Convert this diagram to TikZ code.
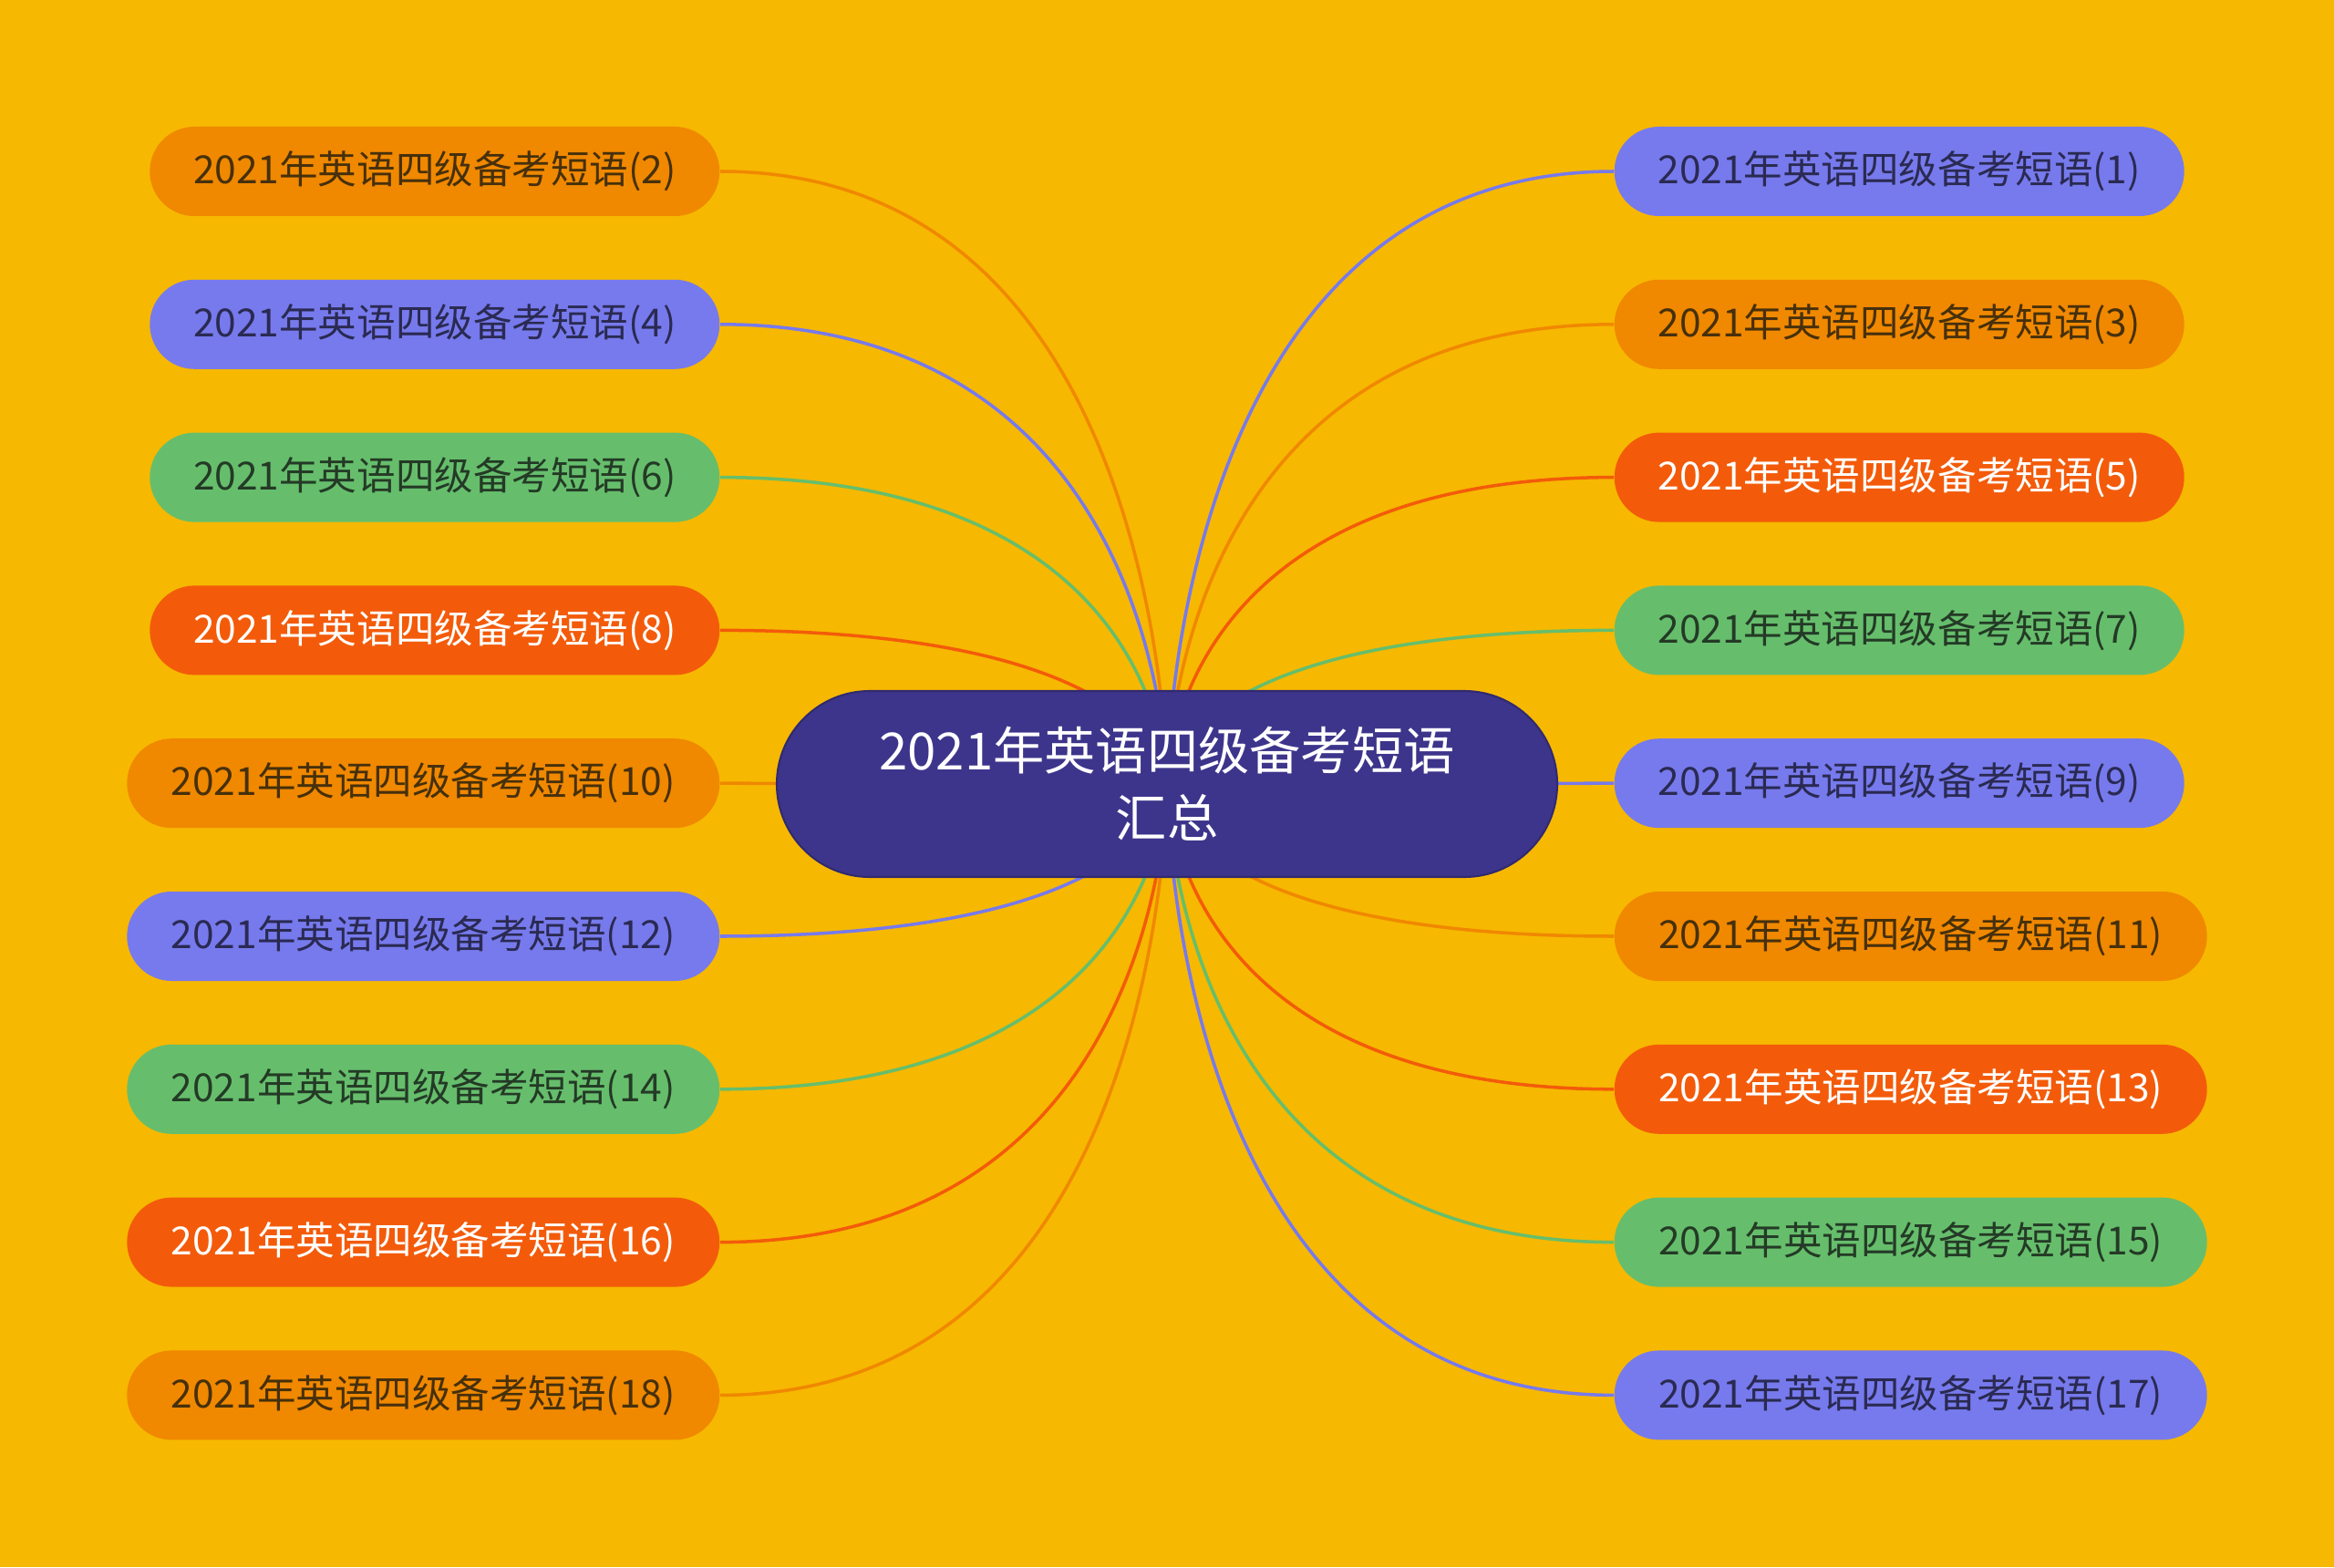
\documentclass[tikz,border=0pt]{standalone}
\usepackage{fontspec}
\setmainfont{Noto Sans CJK SC}
\usetikzlibrary{backgrounds}

\definecolor{bgyellow}{RGB}{246,184,0}
\definecolor{leaforange}{RGB}{240,136,0}
\definecolor{leafblue}{RGB}{119,122,236}
\definecolor{leafgreen}{RGB}{102,190,108}
\definecolor{leafred}{RGB}{243,91,10}
\definecolor{mainblue}{RGB}{61,53,139}
\definecolor{brownink}{RGB}{70,48,12}
\definecolor{navyink}{RGB}{42,42,82}
\definecolor{greenink}{RGB}{36,58,38}

\begin{document}
\begin{tikzpicture}[
    leaf/.style={rounded corners=0.49cm, minimum height=0.98cm,
      inner sep=0pt, font=\fontsize{12.1}{14}\selectfont},
    shortleaf/.style={leaf, minimum width=6.25cm},
    longleaf/.style={leaf, minimum width=6.5cm},
    orangeleaf/.style={fill=leaforange, text=brownink},
    blueleaf/.style={fill=leafblue, text=navyink},
    greenleaf/.style={fill=leafgreen, text=greenink},
    redleaf/.style={fill=leafred, text=white},
    link/.style={line width=1pt}
  ]
    % centre topic
    \node[fill=mainblue, draw=mainblue!80!black, line width=0.6pt,
      rounded corners=1.02cm, minimum width=8.56cm, minimum height=2.04cm,
      text=white, align=center, font=\fontsize{16}{21}\selectfont]
      (main) at (12.80,8.59) {2021年英语四级备考短语\\汇总};

    % left column
    \node[shortleaf, orangeleaf, anchor=east] (p2) at (7.90,15.310)
      {2021年英语四级备考短语(2)};
    \node[shortleaf, blueleaf, anchor=east] (p4) at (7.90,13.632)
      {2021年英语四级备考短语(4)};
    \node[shortleaf, greenleaf, anchor=east] (p6) at (7.90,11.954)
      {2021年英语四级备考短语(6)};
    \node[shortleaf, redleaf, anchor=east] (p8) at (7.90,10.276)
      {2021年英语四级备考短语(8)};
    \node[longleaf, orangeleaf, anchor=east] (p10) at (7.90,8.598)
      {2021年英语四级备考短语(10)};
    \node[longleaf, blueleaf, anchor=east] (p12) at (7.90,6.920)
      {2021年英语四级备考短语(12)};
    \node[longleaf, greenleaf, anchor=east] (p14) at (7.90,5.242)
      {2021年英语四级备考短语(14)};
    \node[longleaf, redleaf, anchor=east] (p16) at (7.90,3.564)
      {2021年英语四级备考短语(16)};
    \node[longleaf, orangeleaf, anchor=east] (p18) at (7.90,1.886)
      {2021年英语四级备考短语(18)};

    % right column
    \node[shortleaf, blueleaf, anchor=west] (p1) at (17.70,15.310)
      {2021年英语四级备考短语(1)};
    \node[shortleaf, orangeleaf, anchor=west] (p3) at (17.70,13.632)
      {2021年英语四级备考短语(3)};
    \node[shortleaf, redleaf, anchor=west] (p5) at (17.70,11.954)
      {2021年英语四级备考短语(5)};
    \node[shortleaf, greenleaf, anchor=west] (p7) at (17.70,10.276)
      {2021年英语四级备考短语(7)};
    \node[shortleaf, blueleaf, anchor=west] (p9) at (17.70,8.598)
      {2021年英语四级备考短语(9)};
    \node[longleaf, orangeleaf, anchor=west] (p11) at (17.70,6.920)
      {2021年英语四级备考短语(11)};
    \node[longleaf, redleaf, anchor=west] (p13) at (17.70,5.242)
      {2021年英语四级备考短语(13)};
    \node[longleaf, greenleaf, anchor=west] (p15) at (17.70,3.564)
      {2021年英语四级备考短语(15)};
    \node[longleaf, blueleaf, anchor=west] (p17) at (17.70,1.886)
      {2021年英语四级备考短语(17)};

    \begin{scope}[on background layer]
      \fill[bgyellow] (0,0) rectangle (25.6,17.19);
      % branches, hidden under the centre topic
      \draw[link, leaforange] (p2.east) .. controls (main.center |- p2.east) and (main.center) .. (main.center);
      \draw[link, leafblue] (p4.east) .. controls (main.center |- p4.east) and (main.center) .. (main.center);
      \draw[link, leafgreen] (p6.east) .. controls (main.center |- p6.east) and (main.center) .. (main.center);
      \draw[link, leafred] (p8.east) .. controls (main.center |- p8.east) and (main.center) .. (main.center);
      \draw[link, leaforange] (p10.east) -- (main.center);
      \draw[link, leafblue] (p12.east) .. controls (main.center |- p12.east) and (main.center) .. (main.center);
      \draw[link, leafgreen] (p14.east) .. controls (main.center |- p14.east) and (main.center) .. (main.center);
      \draw[link, leafred] (p16.east) .. controls (main.center |- p16.east) and (main.center) .. (main.center);
      \draw[link, leaforange] (p18.east) .. controls (main.center |- p18.east) and (main.center) .. (main.center);
      \draw[link, leafblue] (p1.west) .. controls (main.center |- p1.west) and (main.center) .. (main.center);
      \draw[link, leaforange] (p3.west) .. controls (main.center |- p3.west) and (main.center) .. (main.center);
      \draw[link, leafred] (p5.west) .. controls (main.center |- p5.west) and (main.center) .. (main.center);
      \draw[link, leafgreen] (p7.west) .. controls (main.center |- p7.west) and (main.center) .. (main.center);
      \draw[link, leafblue] (p9.west) -- (main.center);
      \draw[link, leaforange] (p11.west) .. controls (main.center |- p11.west) and (main.center) .. (main.center);
      \draw[link, leafred] (p13.west) .. controls (main.center |- p13.west) and (main.center) .. (main.center);
      \draw[link, leafgreen] (p15.west) .. controls (main.center |- p15.west) and (main.center) .. (main.center);
      \draw[link, leafblue] (p17.west) .. controls (main.center |- p17.west) and (main.center) .. (main.center);
    \end{scope}
  \end{tikzpicture}
\end{document}
